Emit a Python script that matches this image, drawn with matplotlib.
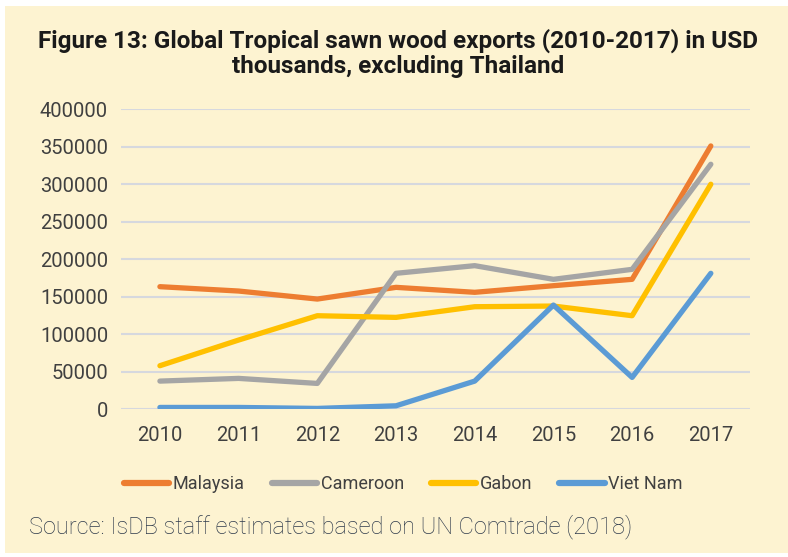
import matplotlib
matplotlib.use("Agg")
import matplotlib.pyplot as plt
from matplotlib.patches import Rectangle

years = ["2010", "2011", "2012", "2013", "2014", "2015", "2016", "2017"]
malaysia = [163500, 157700, 147000, 162600, 156000, 164800, 173300, 351000]
cameroon = [37700, 41300, 34600, 181300, 191500, 173300, 186600, 326600]
gabon = [58200, 92400, 124800, 122600, 136800, 137700, 124800, 300000]
viet_nam = [2600, 2600, 1300, 4800, 37700, 139000, 42600, 181300]

BG = "#FDF3D1"
TXT = "#404040"

fig = plt.figure(figsize=(7.88, 5.57), dpi=100, facecolor="white")
fig.patches.append(Rectangle((5 / 788, 4 / 557), 783 / 788, 547 / 557,
                             transform=fig.transFigure, facecolor=BG,
                             edgecolor="none", zorder=-10))

ax = fig.add_axes([0.153, 0.265, 0.799, 0.539])
ax.set_facecolor("none")
x = range(len(years))
series = [("Malaysia", malaysia, "#ED7D31"),
          ("Cameroon", cameroon, "#A5A5A5"),
          ("Gabon", gabon, "#FFC000"),
          ("Viet Nam", viet_nam, "#5B9BD5")]
for label, vals, col in series:
    ax.plot(x, vals, color=col, lw=3.8, label=label, solid_capstyle="round",
            solid_joinstyle="round")

ax.set_xlim(-0.5, len(years) - 0.5)
ax.set_ylim(0, 400000)
ax.set_yticks(range(0, 400001, 50000))
ax.set_xticks(list(x))
ax.set_xticklabels(years)
ax.grid(axis="y", color="#D6D8DE", lw=1.5)
ax.set_axisbelow(True)
for s in ax.spines.values():
    s.set_visible(False)
ax.tick_params(length=0, labelsize=14.5, labelcolor=TXT, pad=9)
ax.tick_params(axis="x", pad=12)
for t in ax.get_xticklabels() + ax.get_yticklabels():
    t.set_family("Roboto")

fig.text(0.505, 0.905, "Figure 13: Global Tropical sawn wood exports (2010-2017) in USD\nthousands, excluding Thailand",
         ha="center", va="center", fontsize=17.5, fontweight="bold", family="Roboto",
         color="#1a1a1a", linespacing=1.1)

leg = fig.legend(loc="center", bbox_to_anchor=(0.512, 0.131), ncol=4,
                 frameon=False, handlelength=2.5, handletextpad=0.2,
                 columnspacing=1.5, prop={"family": "Roboto", "size": 13})
for t in leg.get_texts():
    t.set_color(TXT)
for h in leg.legend_handles:
    h.set_linewidth(4.5)

fig.text(0.037, 0.054, "Source: IsDB staff estimates based on UN Comtrade (2018)",
         ha="left", va="center", fontsize=17, family="Roboto",
         fontweight="light", color="#2F3B4C")

fig.savefig("out.png", dpi=100, facecolor="white")
